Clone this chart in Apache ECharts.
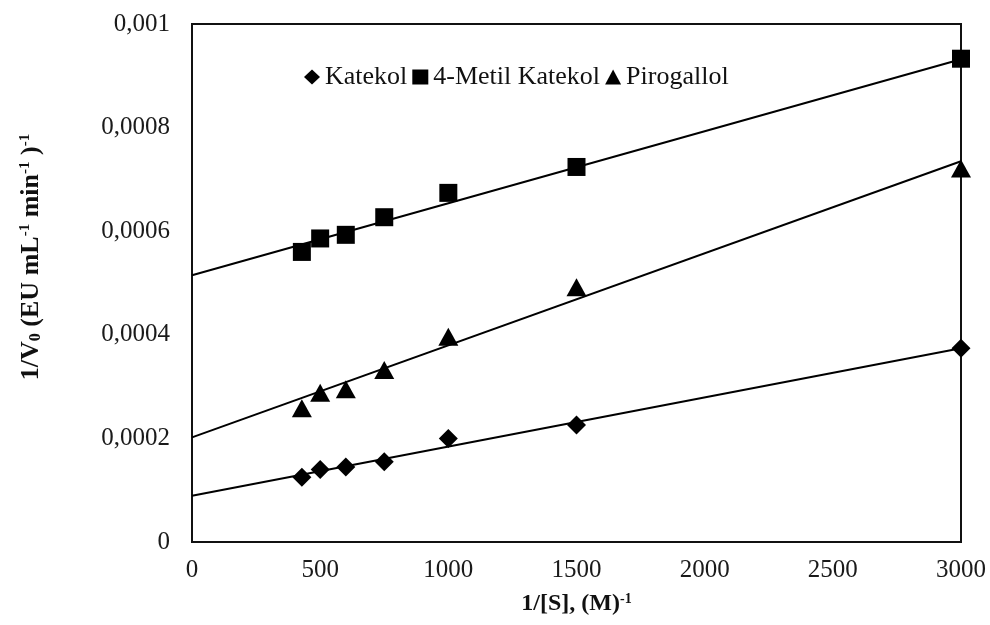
<!DOCTYPE html>
<html>
<head>
<meta charset="utf-8">
<script src="https://cdn.jsdelivr.net/npm/echarts@6/dist/echarts.min.js"></script>
<style>
  html, body { margin: 0; padding: 0; background: #fff; }
  #chart { width: 990px; height: 625px; }
</style>
</head>
<body>
<div id="chart"></div>
<script>
  // 1/[S] values (M^-1)
  var xValues = [428.6, 500, 600, 750, 1000, 1500, 3000];
  // 1/V0 values per substrate
  var katekol = [0.000125, 0.000140, 0.000145, 0.000155, 0.000200, 0.000226, 0.000374];
  var metilKatekol = [0.000560, 0.000586, 0.000593, 0.000627, 0.000674, 0.000724, 0.000933];
  var pirogallol = [0.000258, 0.000288, 0.000295, 0.000332, 0.000396, 0.000492, 0.000721];
  // trend line end points read at x = 0 and x = 3000
  var trendX = [0, 3000];
  var katekolTrend = [0.0000893, 0.000374];
  var metilTrend = [0.000515, 0.000932];
  var pirogallolTrend = [0.000202, 0.000735];

  var FONT = "'Liberation Serif', 'Times New Roman', serif";

  function pairs(xs, ys) {
    return xs.map(function (x, i) { return [x, ys[i]]; });
  }

  function scatter(name, data, symbol, size) {
    return {
      name: name,
      type: 'scatter',
      data: pairs(xValues, data),
      symbol: symbol,
      symbolSize: size,
      clip: false,
      itemStyle: { color: '#000', opacity: 1 },
      z: 3
    };
  }

  function trend(data) {
    return {
      type: 'line',
      data: pairs(trendX, data),
      showSymbol: false,
      silent: true,
      lineStyle: { color: '#000', width: 2 },
      z: 2
    };
  }

  var chart = echarts.init(document.getElementById('chart'));
  var option = {
    backgroundColor: '#fff',
    animation: false,
    textStyle: { fontFamily: FONT },
    grid: {
      left: 192, right: 29, top: 24, bottom: 83,
      show: true, borderColor: '#111', borderWidth: 2
    },
    legend: {
      left: 299, top: 59,
      itemWidth: 16, itemHeight: 15, itemGap: 5,
      textStyle: { fontFamily: FONT, fontSize: 26, color: '#111' },
      data: [
        { name: 'Katekol', icon: 'diamond', itemStyle: { color: '#000', opacity: 1 } },
        { name: '4-Metil Katekol', icon: 'rect', itemStyle: { color: '#000', opacity: 1 } },
        { name: 'Pirogallol', icon: 'triangle', itemStyle: { color: '#000', opacity: 1 } }
      ]
    },
    xAxis: {
      type: 'value',
      min: 0, max: 3000, interval: 500,
      name: '1/[S], (M){sup|-1}',
      nameLocation: 'middle',
      nameGap: 50,
      nameTextStyle: {
        fontFamily: FONT, fontSize: 24, fontWeight: 'bold', color: '#111',
        rich: { sup: { fontFamily: FONT, fontSize: 14, fontWeight: 'bold', verticalAlign: 'top', color: '#111' } }
      },
      axisLine: { lineStyle: { color: '#111', width: 2 } },
      axisTick: { show: false },
      splitLine: { show: false },
      axisLabel: {
        fontFamily: FONT, fontSize: 25, color: '#1a1a1a', margin: 16,
        formatter: function (v) { return String(v); }
      }
    },
    yAxis: {
      type: 'value',
      min: 0, max: 0.001, interval: 0.0002,
      name: '1/V{sub|0} (EU mL{sup|-1} min{sup|-1} ){sup|-1}',
      nameLocation: 'middle',
      nameRotate: 90,
      nameGap: 148,
      nameTextStyle: {
        fontFamily: FONT, fontSize: 26, fontWeight: 'bold', color: '#111',
        padding: [0, 0, 0, 52],
        rich: {
          sup: { fontFamily: FONT, fontSize: 15, fontWeight: 'bold', verticalAlign: 'top', color: '#111' },
          sub: { fontFamily: FONT, fontSize: 16, fontWeight: 'bold', verticalAlign: 'bottom', color: '#111' }
        }
      },
      axisLine: { show: true, lineStyle: { color: '#111', width: 2 } },
      axisTick: { show: false },
      splitLine: { show: false },
      axisLabel: {
        fontFamily: FONT, fontSize: 25, color: '#1a1a1a', margin: 22,
        formatter: function (v) {
          return String(+v.toFixed(4)).replace('.', ',');
        }
      }
    },
    series: [
      trend(katekolTrend),
      trend(metilTrend),
      trend(pirogallolTrend),
      scatter('Katekol', katekol, 'diamond', 19),
      scatter('4-Metil Katekol', metilKatekol, 'rect', 18),
      scatter('Pirogallol', pirogallol, 'triangle', [20, 18])
    ]
  };
  chart.setOption(option);
</script>
</body>
</html>
